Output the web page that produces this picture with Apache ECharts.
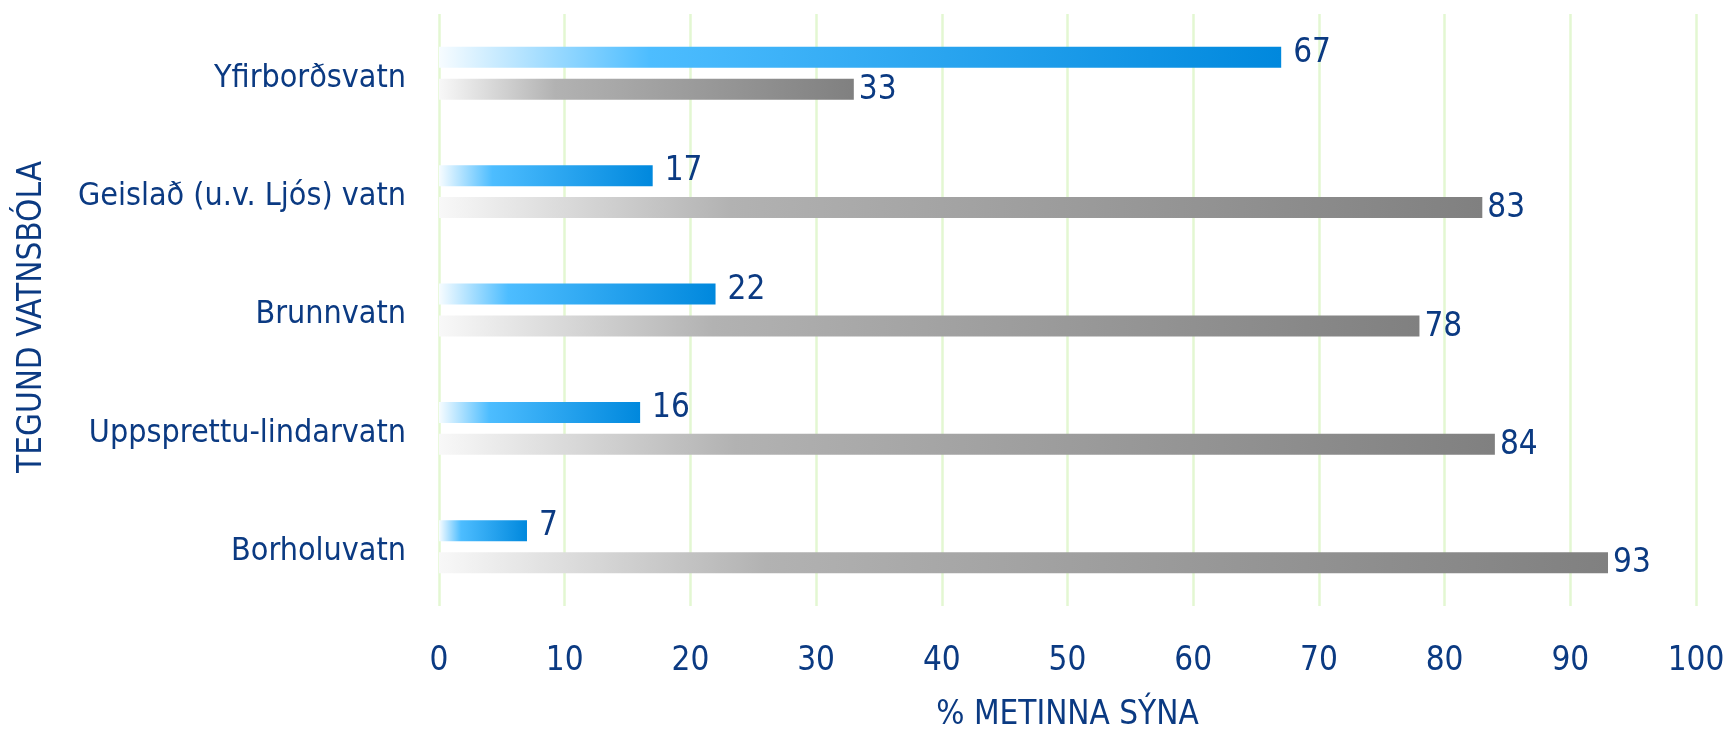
<!DOCTYPE html>
<html>
<head>
<meta charset="utf-8">
<script src="https://cdn.jsdelivr.net/npm/echarts@6/dist/echarts.min.js"></script>
<style>
html,body{margin:0;padding:0;background:#fff;}
#chart{width:1725px;height:730px;}
</style>
</head>
<body>
<div id="chart"></div>
<script>
const categories = ['Yfirborðsvatn', 'Geislað (u.v. Ljós) vatn', 'Brunnvatn', 'Uppsprettu-lindarvatn', 'Borholuvatn'];
const blueValues = [67, 17, 22, 16, 7];
const grayValues = [33, 83, 78, 84, 93];
const xTicks = [0, 10, 20, 30, 40, 50, 60, 70, 80, 90, 100];

const FONT = '"DejaVu Sans Condensed", "DejaVu Sans", sans-serif';
const TXT = '#0B3A82';
const FS = 33;
const FS_CAT = 32;

const chart = echarts.init(document.getElementById('chart'), null, {renderer: 'canvas'});
chart.setOption({
  animation: false,
  backgroundColor: '#fff',
  grid: {left: 439, right: 29, top: 14, bottom: 124, containLabel: false, outerBoundsMode: 'none'},
  xAxis: {
    type: 'value', min: xTicks[0], max: xTicks[xTicks.length - 1], interval: 10,
    name: '% METINNA SÝNA', nameLocation: 'middle', nameGap: 93,
    nameTextStyle: {color: TXT, fontSize: FS, fontFamily: FONT},
    axisLine: {show: false}, axisTick: {show: false},
    axisLabel: {color: TXT, fontSize: FS, fontFamily: FONT, margin: 39},
    splitLine: {show: true, lineStyle: {color: '#E3F7D2', width: 2.5}}
  },
  yAxis: {
    type: 'category', data: categories, inverse: true,
    name: 'TEGUND VATNSBÓLA', nameLocation: 'middle', nameGap: 390,
    nameTextStyle: {color: TXT, fontSize: FS, fontFamily: FONT, padding: [0, 14, 0, 0]},
    axisLine: {show: false}, axisTick: {show: false},
    axisLabel: {
      color: TXT, fontSize: FS_CAT, fontFamily: FONT, margin: 33,
      formatter: function (v) { return '{c|' + v + '}'; },
      rich: {c: {color: TXT, fontSize: FS_CAT, fontFamily: FONT, padding: [10, 0, 0, 0]}}
    }
  },
  series: [
    {
      name: 'Röð 1', type: 'bar', data: blueValues, barWidth: 21, barGap: '52%',
      itemStyle: {color: new echarts.graphic.LinearGradient(0, 0, 1, 0, [
        {offset: 0, color: '#F7FCFF'},
        {offset: 0.25, color: '#4DBDFF'},
        {offset: 1, color: '#0088DD'}
      ])},
      label: {show: true, position: 'right', distance: 12, offset: [0, -4],
        color: TXT, fontSize: FS, fontFamily: FONT}
    },
    {
      name: 'Röð 2', type: 'bar', data: grayValues, barWidth: 21,
      itemStyle: {color: new echarts.graphic.LinearGradient(0, 0, 1, 0, [
        {offset: 0, color: '#F8F8F8'},
        {offset: 0.28, color: '#B2B2B2'},
        {offset: 1, color: '#808080'}
      ])},
      label: {show: true, position: 'right', distance: 5, offset: [0, 1],
        color: TXT, fontSize: FS, fontFamily: FONT}
    }
  ]
});
</script>
</body>
</html>
